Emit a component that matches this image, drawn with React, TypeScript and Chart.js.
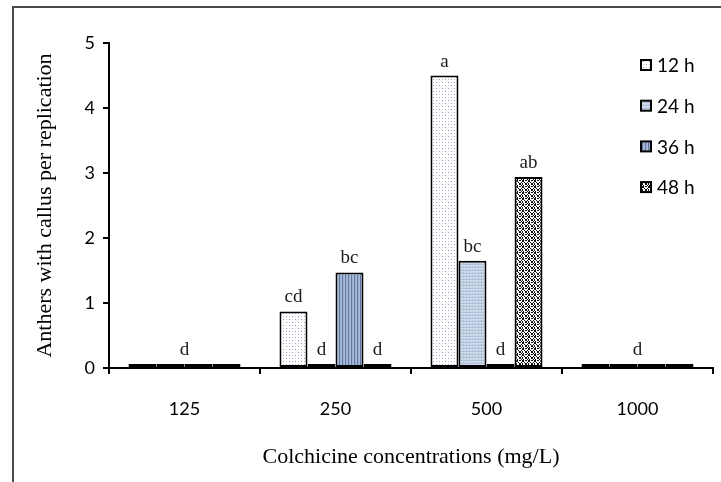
import React, { useEffect, useRef } from "react";
import { Chart, registerables } from "chart.js";

Chart.register(...registerables);

const categories = ["125", "250", "500", "1000"];
const seriesNames = ["12 h", "24 h", "36 h", "48 h"];
const values12h = [0.06, 0.87, 4.5, 0.06];
const values24h = [0.06, 0.06, 1.65, 0.06];
const values36h = [0.06, 1.47, 0.06, 0.06];
const values48h = [0.06, 0.06, 2.94, 0.06];
const letters12h = ["", "cd", "a", ""];
const letters24h = ["", "d", "bc", ""];
const letters36h = ["", "bc", "d", ""];
const letters48h = ["", "d", "ab", ""];
const groupLetters = ["d", "", "", "d"];
const yTickValues = [0, 1, 2, 3, 4, 5];

const xTitle = "Colchicine concentrations (mg/L)";
const yTitle = "Anthers with callus per replication";

function makePattern(kind: number): CanvasPattern | string {
  const c = document.createElement("canvas");
  const ctx = c.getContext("2d");
  if (!ctx) return "#ccc";
  if (kind === 0) {
    c.width = 6;
    c.height = 6;
    ctx.fillStyle = "#ffffff";
    ctx.fillRect(0, 0, 6, 6);
    ctx.fillStyle = "#8e9cbb";
    ctx.fillRect(1, 1, 1, 1);
    ctx.fillRect(4, 4, 1, 1);
    ctx.fillStyle = "#c4cbe0";
    ctx.fillRect(1, 4, 1, 1);
    ctx.fillRect(4, 1, 1, 1);
  } else if (kind === 1) {
    c.width = 3;
    c.height = 3;
    ctx.fillStyle = "#cfdaea";
    ctx.fillRect(0, 0, 3, 3);
    ctx.fillStyle = "#aebfd9";
    ctx.fillRect(0, 0, 3, 1);
    ctx.fillRect(1, 2, 1, 1);
  } else if (kind === 2) {
    c.width = 3;
    c.height = 1;
    ctx.fillStyle = "#6178a2";
    ctx.fillRect(0, 0, 1, 1);
    ctx.fillStyle = "#9bb0d0";
    ctx.fillRect(1, 0, 1, 1);
    ctx.fillStyle = "#aabcd8";
    ctx.fillRect(2, 0, 1, 1);
  } else {
    c.width = 6;
    c.height = 6;
    ctx.fillStyle = "#ffffff";
    ctx.fillRect(0, 0, 6, 6);
    ctx.fillStyle = "#111111";
    ctx.fillRect(0, 0, 2, 2);
    ctx.fillRect(3, 0, 2, 1);
    ctx.fillRect(3, 3, 2, 2);
    ctx.fillRect(0, 3, 1, 2);
    ctx.fillRect(2, 2, 1, 1);
    ctx.fillRect(5, 5, 1, 1);
    ctx.fillRect(1, 5, 1, 1);
    ctx.fillRect(5, 2, 1, 1);
  }
  const p = ctx.createPattern(c, "repeat");
  return p || "#ccc";
}

export default function App() {
  const ref = useRef<HTMLCanvasElement | null>(null);

  useEffect(() => {
    const canvas = ref.current;
    if (!canvas) return;
    const patterns = [0, 1, 2, 3].map((k) => makePattern(k));
    const allValues = [values12h, values24h, values36h, values48h];
    const allLetters = [letters12h, letters24h, letters36h, letters48h];

    const framePlugin = {
      id: "frame",
      beforeDraw(chart: any) {
        const ctx = chart.ctx;
        ctx.save();
        ctx.fillStyle = "#ffffff";
        ctx.fillRect(0, 0, chart.width, chart.height);
        ctx.strokeStyle = "#4a4a4a";
        ctx.lineWidth = 2;
        ctx.beginPath();
        ctx.moveTo(13, chart.height);
        ctx.lineTo(13, 7);
        ctx.lineTo(chart.width, 7);
        ctx.stroke();
        ctx.restore();
      },
    };

    const lettersPlugin = {
      id: "letters",
      afterDatasetsDraw(chart: any) {
        const ctx = chart.ctx;
        ctx.save();
        ctx.font = '19px "Liberation Serif"';
        ctx.fillStyle = "#1a1a1a";
        ctx.textAlign = "center";
        ctx.textBaseline = "alphabetic";
        allLetters.forEach((letters, i) => {
          const meta = chart.getDatasetMeta(i);
          letters.forEach((t, j) => {
            if (!t) return;
            const bar = meta.data[j];
            ctx.fillText(t, bar.x, bar.y - 9);
          });
        });
        const xs = chart.scales.x;
        groupLetters.forEach((t, j) => {
          if (!t) return;
          let top = Infinity;
          allLetters.forEach((_, i) => {
            const bar = chart.getDatasetMeta(i).data[j];
            top = Math.min(top, bar.y);
          });
          ctx.fillText(t, xs.getPixelForValue(j), top - 9);
        });
        ctx.restore();
      },
    };

    const legendPlugin = {
      id: "customLegend",
      afterDraw(chart: any) {
        const ctx = chart.ctx;
        const area = chart.chartArea;
        const x0 = area.right - 72;
        const y0 = area.top + 22;
        const step = 40.7;
        ctx.save();
        ctx.font = '19px "Lato"';
        ctx.textBaseline = "middle";
        ctx.textAlign = "left";
        seriesNames.forEach((name, i) => {
          const y = y0 + i * step;
          ctx.fillStyle = patterns[i] as any;
          ctx.fillRect(x0, y - 5, 10, 10);
          ctx.strokeStyle = "#000";
          ctx.lineWidth = 2;
          ctx.strokeRect(x0, y - 5, 10, 10);
          ctx.fillStyle = "#000";
          ctx.fillText(name, x0 + 16, y + 1);
        });
        ctx.restore();
      },
    };

    const chart = new Chart(canvas, {
      type: "bar",
      data: {
        labels: categories,
        datasets: seriesNames.map((name, i) => ({
          label: name,
          data: allValues[i],
          backgroundColor: patterns[i] as any,
          borderColor: "#000",
          borderWidth: 2,
          borderSkipped: false,
          categoryPercentage: 0.742,
          barPercentage: 1,
        })),
      },
      options: {
        responsive: false,
        animation: false,
        layout: { padding: { top: 43, right: 8, left: 0, bottom: 0 } },
        plugins: {
          legend: { display: false },
          tooltip: { enabled: false },
        },
        scales: {
          x: {
            grid: {
              display: true,
              drawOnChartArea: false,
              drawTicks: true,
              tickLength: 6,
              color: "#000",
              lineWidth: 2,
              offset: true,
            },
            border: { display: true, color: "#000", width: 2 },
            ticks: {
              color: "#000",
              font: { family: "Lato", size: 18 },
              padding: 24,
            },
            title: {
              display: true,
              text: xTitle,
              color: "#000",
              font: { family: "Liberation Serif", size: 22 },
              padding: { top: 0, bottom: 12 },
            },
            afterFit: (s: any) => {
              s.height = 114;
            },
          },
          y: {
            min: 0,
            max: 5,
            grid: {
              display: true,
              drawOnChartArea: false,
              drawTicks: true,
              tickLength: 6,
              color: "#000",
              lineWidth: 2,
            },
            border: { display: true, color: "#000", width: 2 },
            ticks: {
              color: "#000",
              font: { family: "Lato", size: 18 },
              padding: 8,
            },
            afterBuildTicks: (s: any) => {
              s.ticks = yTickValues.map((v) => ({ value: v }));
            },
            title: {
              display: true,
              text: yTitle,
              color: "#000",
              font: { family: "Liberation Serif", size: 22 },
              padding: { top: 32, bottom: 0 },
            },
            afterFit: (s: any) => {
              s.width = 109;
            },
          },
        },
      },
      plugins: [framePlugin, lettersPlugin, legendPlugin],
    });
    return () => chart.destroy();
  }, []);

  return (
    <div style={{ position: "absolute", left: 0, top: 0, width: 721, height: 482 }}>
      <canvas ref={ref} width={721} height={482} style={{ display: "block" }} />
    </div>
  );
}
